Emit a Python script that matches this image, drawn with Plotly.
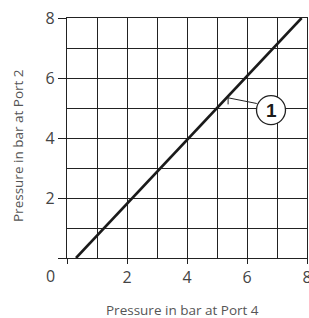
import plotly.graph_objects as go

# Data
port4 = [0.3, 7.82]
port2 = [0.0, 8.0]
tick_vals = [0, 2, 4, 6, 8]
tick_text = ["", "2", "4", "6", "8"]
callout_label = "1"
callout_center = (6.8, 4.93)
callout_anchor = (5.37, 5.34)

fig = go.Figure()
fig.add_trace(go.Scatter(x=port4, y=port2, mode="lines",
                         line=dict(color="#1a1a1a", width=2.6),
                         hoverinfo="skip", showlegend=False))

grid_col = "#222222"
axis_common = dict(range=[0, 8], tickvals=tick_vals, ticktext=tick_text,
                   showgrid=True, gridcolor=grid_col, gridwidth=1.1,
                   minor=dict(dtick=1, showgrid=True, gridcolor=grid_col, gridwidth=1.1),
                   showline=True, linecolor=grid_col, linewidth=1.1, mirror=True,
                   ticks="outside", tickcolor=grid_col, tickwidth=1.1,
                   zeroline=False, automargin=False, ticklabeloverflow="allow",
                   tickfont=dict(family="Open Sans", size=16, color="#444444"))

fig.update_xaxes(**axis_common, ticklen=5)
fig.update_yaxes(**axis_common, ticklen=8)

# callout
cx, cy = callout_center
r_px = 14.5
unit = 30.0
rx = r_px / unit
fig.add_shape(type="line", x0=callout_anchor[0], y0=callout_anchor[1],
              x1=cx - rx * 0.98, y1=cy + 0.22,
              line=dict(color="#222222", width=1))
fig.add_shape(type="line", x0=callout_anchor[0], y0=callout_anchor[1],
              x1=callout_anchor[0], y1=callout_anchor[1] - 0.22,
              line=dict(color="#222222", width=1))
fig.add_shape(type="circle", x0=cx - rx, x1=cx + rx, y0=cy - rx, y1=cy + rx,
              fillcolor="white", line=dict(color="#222222", width=1.3), layer="above")
fig.add_annotation(x=cx, y=cy, text="<b>" + callout_label + "</b>", showarrow=False,
                   font=dict(family="Liberation Sans", size=19, color="#1a1a1a"))

# axis titles and shared origin label
fig.add_annotation(xref="paper", yref="paper", x=-0.07, y=-0.075, text="0",
                   showarrow=False, xanchor="center", yanchor="middle",
                   font=dict(family="Open Sans", size=16, color="#444444"))
fig.add_annotation(xref="paper", yref="paper", x=0.48, y=-0.215,
                   text="Pressure in bar at Port 4", showarrow=False,
                   xanchor="center", yanchor="middle",
                   font=dict(family="Open Sans", size=13.5, color="#555555"))
fig.add_annotation(xref="paper", yref="paper", x=-0.205, y=0.47,
                   text="Pressure in bar at Port 2", showarrow=False, textangle=-90,
                   xanchor="center", yanchor="middle",
                   font=dict(family="Open Sans", size=13.5, color="#555555"))

fig.update_layout(width=309, height=318,
                  margin=dict(l=67, r=2, t=18, b=60, autoexpand=False),
                  plot_bgcolor="white", paper_bgcolor="white")

fig.write_html("out.html", config={"displayModeBar": False},
               post_script="document.body.style.margin='0px';")
